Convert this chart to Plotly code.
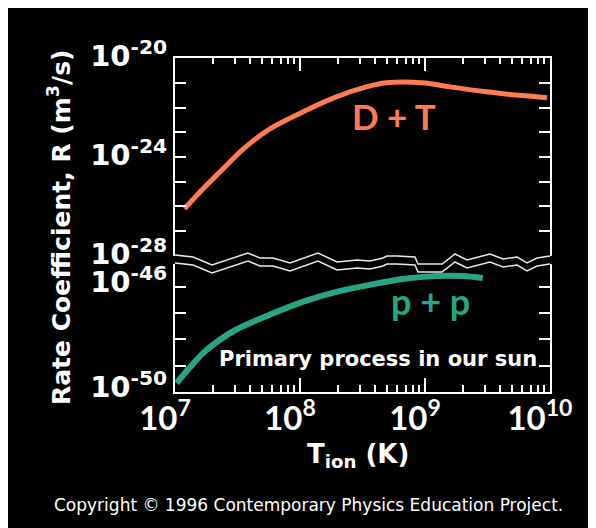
import math
import plotly.graph_objects as go

# ---------------- data ----------------
T_DT = [1.19e7, 1.66e7, 2.27e7, 3.47e7, 5.7e7, 1.05e8, 1.95e8, 3.39e8, 4.9e8,
        9.5e8, 1.58e9, 3.09e9, 5.37e9, 9.5e9]
R_DT = [8.1e-27, 5.0e-26, 2.4e-25, 2.0e-24, 1.35e-23, 6.6e-23, 2.7e-22, 6.8e-22,
        1.0e-21, 1.0e-21, 6.8e-22, 4.3e-22, 3.2e-22, 2.5e-22]

T_PP = [1.03e7, 1.31e7, 1.66e7, 2.27e7, 3.09e7, 5.7e7, 1.05e8, 1.95e8, 3.6e8,
        6.6e8, 1.23e9, 2.0e9, 2.9e9]
R_PP = [2.2e-50, 8.5e-50, 2.9e-49, 9.5e-49, 2.4e-48, 8.7e-48, 2.7e-47, 6.5e-47,
        1.2e-46, 2.0e-46, 2.6e-46, 2.6e-46, 2.2e-46]

X_TICK_EXP = [7, 8, 9, 10]
Y_UPPER_EXP = list(range(-28, -19))
Y_UPPER_LABELED = [-20, -24, -28]
Y_LOWER_EXP = list(range(-50, -45))
Y_LOWER_LABELED = [-46, -50]

# decorative axis-break zigzag (pixel offsets within the plot frame)
BREAK_X = [0, 18, 37, 73, 85, 98, 115, 143, 162, 182, 195, 208, 212, 222, 240,
           243, 267, 280, 292, 315, 328, 342, 352, 362, 375]
BREAK_Y = [255, 257, 265, 253, 258, 258, 263, 253, 262, 260, 261, 258, 256, 256,
           257, 264, 264, 254, 260, 254, 259, 257, 263, 258, 256]

# ---------------- geometry (image pixels; page body adds an 8px offset) ----------------
W, H = 596, 528
OFF = 8
IMG_L, IMG_R, IMG_T, IMG_B = 175, 550, 58, 392


def px(xp, yp):
    return (xp - IMG_L) / (IMG_R - IMG_L), (IMG_B - yp) / (IMG_B - IMG_T)


upper_bottom_px = 256
lower_top_px = 264
upper_dom = [px(0, upper_bottom_px)[1], 1]
lower_dom = [0, px(0, lower_top_px)[1]]
lower_top_val = -46 + (287 - lower_top_px) / 26.3

ORANGE = "#FF7B52"
TEAL = "#27A583"
LATO = "Lato"
DJV = "DejaVu Sans"

fig = go.Figure()
fig.add_trace(go.Scatter(x=T_DT, y=R_DT, mode="lines", xaxis="x2", yaxis="y",
                         line=dict(color=ORANGE, width=5, shape="spline",
                                   smoothing=0.9),
                         showlegend=False, hoverinfo="skip"))
fig.add_trace(go.Scatter(x=T_PP, y=R_PP, mode="lines", xaxis="x", yaxis="y2",
                         line=dict(color=TEAL, width=6, shape="spline",
                                   smoothing=0.9),
                         showlegend=False, hoverinfo="skip"))

minor_x = [m * 10 ** e for e in X_TICK_EXP[:-1] for m in range(2, 10)]
xticktext = [f"10<sup>{e}</sup>" for e in X_TICK_EXP]

common_axis = dict(showline=True, linecolor="white", linewidth=2, showgrid=False,
                   zeroline=False, ticks="inside", tickcolor="white", tickwidth=2)
ytickfont = dict(family=DJV, size=29, color="white", weight="bold")

fig.update_layout(
    width=W, height=H, autosize=False,
    margin=dict(l=IMG_L - OFF, r=W - (IMG_R - OFF), t=IMG_T - OFF,
                b=H - (IMG_B - OFF), pad=0),
    paper_bgcolor="black", plot_bgcolor="black",
    xaxis=dict(type="log", range=[6.9995, 10.0005], anchor="y2", side="bottom",
               tickvals=[10 ** e for e in X_TICK_EXP], ticktext=xticktext,
               ticklen=14, ticklabelstandoff=-4, ticklabelshift=-10,
               tickfont=dict(family=LATO, size=33, color="white", weight="bold"),
               minor=dict(tickvals=minor_x, ticks="inside", ticklen=7,
                          tickcolor="white", tickwidth=1.5),
               **common_axis),
    xaxis2=dict(type="log", range=[6.9995, 10.0005], anchor="y", side="top",
                matches="x",
                tickvals=[10 ** e for e in X_TICK_EXP], showticklabels=False,
                ticklen=13,
                minor=dict(tickvals=minor_x, ticks="inside", ticklen=6,
                           tickcolor="white", tickwidth=1.5),
                **common_axis),
    yaxis=dict(type="log", domain=upper_dom, range=[-28.0005, -20], anchor="x",
               tickvals=[10 ** e for e in Y_UPPER_EXP],
               ticktext=[f"10<sup>{e}</sup>" if e in Y_UPPER_LABELED else ""
                         for e in Y_UPPER_EXP],
               ticklen=11, mirror="allticks", ticklabelshift=-2,
               tickfont=ytickfont, **common_axis),
    yaxis2=dict(type="log", domain=lower_dom, range=[-50.0005, lower_top_val],
                anchor="x",
                tickvals=[10 ** e for e in Y_LOWER_EXP],
                ticktext=[f"10<sup>{e}</sup>" if e in Y_LOWER_LABELED else ""
                          for e in Y_LOWER_EXP],
                ticklen=11, mirror="allticks", ticklabelshift=-5,
                tickfont=ytickfont, **common_axis),
)

# axis-break zigzag lines
shapes = []
for off in (0, 8):
    pts = [px(IMG_L + bx, by + off) for bx, by in zip(BREAK_X, BREAK_Y)]
    path = "M " + " L ".join(f"{a:.5f},{b:.5f}" for a, b in pts)
    shapes.append(dict(type="path", xref="paper", yref="paper", path=path,
                       line=dict(color="#e8e8e8", width=1.5), layer="above"))
fig.update_layout(shapes=shapes)

ann = []
ann.append(dict(x=math.log10(5.7e8), y=math.log10(4.4e-23), xref="x2", yref="y",
                text="D + T", showarrow=False, xanchor="center", yanchor="middle",
                font=dict(family=LATO, size=35, color=ORANGE, weight="bold")))
ann.append(dict(x=math.log10(1.1e9), y=math.log10(3.0e-47), xref="x", yref="y2",
                text="p + p", showarrow=False, xanchor="center", yanchor="middle",
                font=dict(family=LATO, size=36, color=TEAL, weight="bold")))
ann.append(dict(x=math.log10(4.17e8), y=math.log10(1.75e-49), xref="x", yref="y2",
                text="Primary process in our sun", showarrow=False,
                xanchor="center", yanchor="middle",
                font=dict(family=DJV, size=21, color="white", weight="bold")))
yx, yy = px(59, 228)
ann.append(dict(x=yx, y=yy, xref="paper", yref="paper", textangle=-90,
                xanchor="center", yanchor="middle",
                text="Rate Coefficient, R (m<sup>3</sup>/s)", showarrow=False,
                font=dict(family=DJV, size=25, color="white", weight="bold")))
tx, ty = px(358, 455)
ann.append(dict(x=tx, y=ty, xref="paper", yref="paper",
                xanchor="center", yanchor="middle",
                text="T<sub>ion</sub> (K)", showarrow=False,
                font=dict(family=DJV, size=26, color="white", weight="bold")))
cx, cy = px(308, 505)
ann.append(dict(x=cx, y=cy, xref="paper", yref="paper",
                xanchor="center", yanchor="middle",
                text="Copyright © 1996 Contemporary Physics Education Project.",
                showarrow=False,
                font=dict(family=DJV, size=17, color="white")))
fig.update_layout(annotations=ann)

fig.write_html("out.html")
